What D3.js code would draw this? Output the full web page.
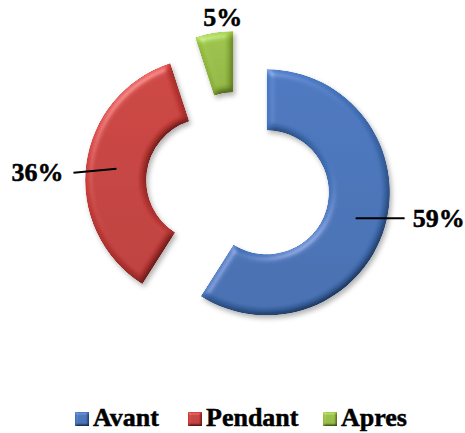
<!DOCTYPE html>
<html>
<head>
<meta charset="utf-8">
<script src="https://cdn.jsdelivr.net/npm/d3@7"></script>
<style>
  html, body { margin: 0; padding: 0; background: #fff; }
  svg { display: block; }
</style>
</head>
<body>
<svg id="chart" width="465" height="433"></svg>
<script>
// Share of responses by period
const categories = ["Avant", "Pendant", "Apres"];
const values = [59, 36, 5];
const labels = ["59%", "36%", "5%"];
const colors = ["#4473bb", "#c83c39", "#98c043"];

// Label placement relative to each slice's ring centroid
const labelLayout = [
  { line: [49, 0], text: [57, 9], anchor: "start" },
  { line: [-43, 4], text: [-53, 12], anchor: "end" },
  { line: null, text: [4, -37], anchor: "middle" }
];

const cx = 238, cy = 184;
const outerR = 123, innerR = 62, explode = 30;
const fontFamily = "'Liberation Serif', 'Times New Roman', serif";

const svg = d3.select("#chart");
const defs = svg.append("defs");

function bevelFilter(id, blur, surface, shadow) {
  const f = defs.append("filter").attr("id", id)
    .attr("x", "-20%").attr("y", "-20%").attr("width", "140%").attr("height", "140%");
  f.append("feGaussianBlur").attr("in", "SourceAlpha").attr("stdDeviation", blur).attr("result", "b");
  const d = f.append("feDiffuseLighting").attr("in", "b").attr("surfaceScale", surface)
    .attr("diffuseConstant", 1).attr("lighting-color", "#fff").attr("result", "diff");
  d.append("feDistantLight").attr("azimuth", 235).attr("elevation", 50);
  f.append("feComposite").attr("in", "diff").attr("in2", "SourceAlpha").attr("operator", "in").attr("result", "diffIn");
  f.append("feComposite").attr("in", "SourceGraphic").attr("in2", "diffIn").attr("operator", "arithmetic")
    .attr("k1", 1.1).attr("k2", 0.1).attr("k3", 0).attr("k4", 0).attr("result", "lit");
  const s = f.append("feSpecularLighting").attr("in", "b").attr("surfaceScale", surface)
    .attr("specularConstant", 0.4).attr("specularExponent", 22).attr("lighting-color", "#fff").attr("result", "spec");
  s.append("feDistantLight").attr("azimuth", 235).attr("elevation", 40);
  f.append("feComposite").attr("in", "spec").attr("in2", "SourceAlpha").attr("operator", "in").attr("result", "specIn");
  f.append("feComposite").attr("in", "lit").attr("in2", "specIn").attr("operator", "arithmetic")
    .attr("k1", 0).attr("k2", 1).attr("k3", 0.45).attr("k4", 0).attr("result", "shaded");
  if (shadow) {
    f.append("feOffset").attr("in", "SourceAlpha").attr("dx", 2).attr("dy", 3).attr("result", "off");
    f.append("feGaussianBlur").attr("in", "off").attr("stdDeviation", 2.5).attr("result", "offb");
    f.append("feFlood").attr("flood-color", "#000").attr("flood-opacity", 0.3);
    f.append("feComposite").attr("in2", "offb").attr("operator", "in").attr("result", "sh");
    const m = f.append("feMerge");
    m.append("feMergeNode").attr("in", "sh");
    m.append("feMergeNode").attr("in", "shaded");
  }
}
bevelFilter("bevel", 3.5, 4, true);
bevelFilter("bevelSmall", 1.2, 2, false);

// Soft vertical sheen per colour
colors.forEach((c, i) => {
  const g = defs.append("linearGradient").attr("id", "grad" + i)
    .attr("x1", 0).attr("y1", 0).attr("x2", 0).attr("y2", 1);
  g.append("stop").attr("offset", "0%").attr("stop-color", d3.color(c).brighter(0.12));
  g.append("stop").attr("offset", "100%").attr("stop-color", d3.color(c).darker(0.12));
});

const pie = d3.pie().sort(null).value(d => d)(values);
const arc = d3.arc().innerRadius(innerR).outerRadius(outerR);
const midR = (innerR + outerR) / 2;

const slices = svg.append("g").attr("transform", `translate(${cx},${cy})`);

pie.forEach((p, i) => {
  const mid = (p.startAngle + p.endAngle) / 2;
  const ox = Math.sin(mid) * explode, oy = -Math.cos(mid) * explode;
  const g = slices.append("g").attr("transform", `translate(${ox},${oy})`);
  g.append("path").attr("d", arc(p)).attr("fill", `url(#grad${i})`).attr("filter", "url(#bevel)");
});

// Data labels with leader lines
const labelG = svg.append("g").attr("transform", `translate(${cx},${cy})`);
pie.forEach((p, i) => {
  const mid = (p.startAngle + p.endAngle) / 2;
  const ox = Math.sin(mid) * explode, oy = -Math.cos(mid) * explode;
  const px = ox + Math.sin(mid) * midR, py = oy - Math.cos(mid) * midR;
  const L = labelLayout[i];
  if (L.line) {
    labelG.append("line")
      .attr("x1", px).attr("y1", py)
      .attr("x2", px + L.line[0]).attr("y2", py + L.line[1])
      .attr("stroke", "#000").attr("stroke-width", 2);
  }
  labelG.append("text")
    .attr("x", px + L.text[0]).attr("y", py + L.text[1])
    .attr("text-anchor", L.anchor)
    .attr("font-family", fontFamily).attr("font-weight", "bold")
    .attr("font-size", 26)
    .attr("stroke", "#000").attr("stroke-width", 0.5)
    .text(labels[i]);
});

// Legend
const legendX = [75, 188, 323];
const legend = svg.append("g").attr("transform", "translate(0,412)");
categories.forEach((c, i) => {
  const item = legend.append("g").attr("transform", `translate(${legendX[i]},0)`);
  item.append("rect").attr("width", 14).attr("height", 14)
    .attr("fill", `url(#grad${i})`).attr("filter", "url(#bevelSmall)");
  item.append("text").attr("x", 18).attr("y", 14)
    .attr("font-family", fontFamily).attr("font-weight", "bold")
    .attr("font-size", 26)
    .attr("stroke", "#000").attr("stroke-width", 0.5)
    .text(c);
});
</script>
</body>
</html>
